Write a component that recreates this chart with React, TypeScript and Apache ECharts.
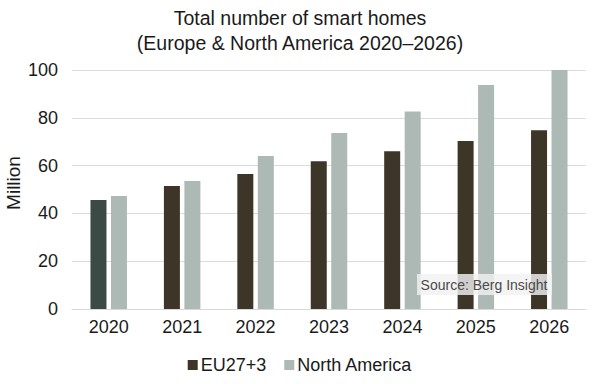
import React, { useEffect, useRef } from "react";
import * as echarts from "echarts";

const years = ["2020", "2021", "2022", "2023", "2024", "2025", "2026"];
const euValues = [45.6, 51.5, 56.5, 61.8, 66, 70.3, 74.8];
const naValues = [47.3, 53.6, 64, 73.6, 82.6, 93.7, 100];
const yTicks = [0, 20, 40, 60, 80, 100];
const yAxisName = "Million";

const FONT = "Liberation Sans, Arial, sans-serif";

export default function App() {
  const ref = useRef<HTMLDivElement>(null);
  useEffect(() => {
    if (!ref.current) return;
    const chart = echarts.init(ref.current, null, { renderer: "svg" });
    chart.setOption({
      animation: false,
      backgroundColor: "#ffffff",
      textStyle: { fontFamily: FONT },
      title: {
        text: "Total number of smart homes\n(Europe & North America 2020–2026)",
        left: "center",
        top: 0,
        textStyle: { fontSize: 19.5, fontWeight: "normal", color: "#1a1a1a", lineHeight: 25, fontFamily: FONT },
      },
      legend: {
        bottom: 5,
        left: "center",
        itemWidth: 10,
        itemHeight: 10,
        itemGap: 18,
        icon: "rect",
        textStyle: { fontSize: 18, color: "#1a1a1a", fontFamily: FONT, padding: [0, 0, 0, -2] },
        data: ["EU27+3", "North America"],
      },
      grid: { left: 72, right: 14, top: 70, bottom: 75, containLabel: false, outerBoundsMode: "none" },
      xAxis: {
        type: "category",
        data: years,
        axisLine: { show: true, lineStyle: { color: "#d9d9d9", width: 1 } },
        axisTick: { show: false },
        axisLabel: { fontSize: 18, color: "#1a1a1a", margin: 9, fontFamily: FONT },
      },
      yAxis: {
        type: "value",
        min: yTicks[0],
        max: yTicks[yTicks.length - 1],
        interval: 20,
        axisLine: { show: false },
        axisTick: { show: false },
        axisLabel: { fontSize: 18, color: "#1a1a1a", margin: 14, fontFamily: FONT },
        splitLine: { lineStyle: { color: "#dcdcdc", width: 1 } },
      },
      series: [
        {
          name: "EU27+3",
          type: "bar",
          barWidth: 16,
          barGap: "28%",
          itemStyle: { color: "#3e3529" },
          data: euValues.map((v, i) =>
            i === 0 ? { value: v, itemStyle: { color: "#3b4a45" } } : v
          ),
        },
        {
          name: "North America",
          type: "bar",
          barWidth: 16,
          itemStyle: { color: "#adb9b4" },
          data: naValues,
        },
      ],
      graphic: [
        {
          type: "text",
          x: 13,
          y: 183,
          rotation: Math.PI / 2,
          style: {
            text: yAxisName,
            fontSize: 19,
            fill: "#1a1a1a",
            align: "center",
            verticalAlign: "middle",
            fontFamily: FONT,
          },
        },
        {
          type: "group",
          left: 417,
          top: 274,
          z: 100,
          children: [
            {
              type: "rect",
              z: 100,
              shape: { x: 0, y: 0, width: 135, height: 21 },
              style: { fill: "rgba(242,242,242,0.82)" },
            },
            {
              type: "text",
              z: 101,
              x: 67,
              y: 11,
              style: {
                text: "Source: Berg Insight",
                fontSize: 14,
                fill: "#4a4a4a",
                align: "center",
                verticalAlign: "middle",
                fontFamily: FONT,
              },
            },
          ],
        },
      ],
    });
    return () => chart.dispose();
  }, []);
  return <div ref={ref} style={{ width: 600, height: 384, position: "absolute", left: 0, top: 0 }} />;
}
